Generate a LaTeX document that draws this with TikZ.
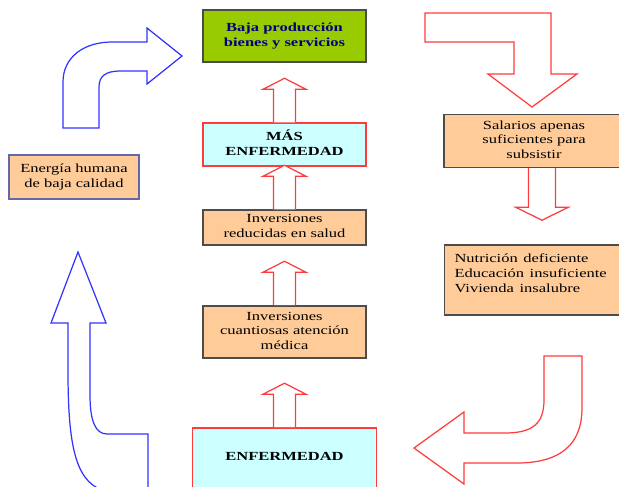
\documentclass[tikz,border=0pt]{standalone}
\usepackage{fontspec}
\setmainfont{Liberation Serif}
\usetikzlibrary{positioning}

\definecolor{verde}{HTML}{99CC00}
\definecolor{piel}{HTML}{FFCC99}
\definecolor{celeste}{HTML}{CCFFFF}
\definecolor{azul}{HTML}{3333FF}
\definecolor{rojo}{HTML}{FF3B3B}
\definecolor{marino}{HTML}{000080}

% texto algo aplastado en vertical, como en el original
\newcommand{\sq}[1]{\scalebox{1}[0.75]{\begin{tabular}{@{}c@{}}#1\end{tabular}}}
\newcommand{\sql}[1]{\scalebox{1}[0.75]{\begin{tabular}{@{}l@{}}#1\end{tabular}}}

\tikzset{
  caja/.style={draw=black!70, fill=piel, line width=0.8pt, inner sep=0pt,
    font=\fontsize{9.4}{11.3}\selectfont},
  flecharoja/.style={draw=rojo, fill=white, line width=0.7pt, line join=miter},
  flechaazul/.style={draw=azul, fill=white, line width=0.7pt, line join=miter},
  uparr/.pic={\draw[flecharoja] (-11,0) -- (-11,-33) -- (-21.5,-33) -- (0,-44)
    -- (21.5,-33) -- (11,-33) -- (11,0);}
}

\begin{document}
\begin{tikzpicture}[x=0.02cm,y=-0.02cm,on grid]
    \useasboundingbox (0,0) rectangle (619,487);
    \clip (0,0) rectangle (619,487);

    % columna central
    \node[caja, fill=verde, minimum width=3.26cm, minimum height=1.04cm,
      text=marino, font=\fontsize{9.4}{11.3}\selectfont\bfseries]
      (prod) at (284.5,36) {\sq{Baja producción\\bienes y servicios}};
    \node[caja, draw=rojo, fill=celeste, minimum width=3.26cm, minimum height=0.86cm,
      font=\fontsize{9.4}{11.3}\selectfont\bfseries, below=2.17cm of prod]
      (mas) {\sq{MÁS\\ENFERMEDAD}};
    \node[caja, minimum width=3.26cm, minimum height=0.70cm, below=1.66cm of mas]
      (reduc) {\sq{Inversiones\\reducidas en salud}};
    \node[caja, minimum width=3.26cm, minimum height=1.04cm, below=2.09cm of reduc]
      (cuant) {\sq{Inversiones\\cuantiosas atención\\médica}};
    \node[caja, draw=rojo, fill=celeste, minimum width=3.68cm, minimum height=1.2cm,
      font=\fontsize{9.4}{11.3}\selectfont\bfseries, below=2.52cm of cuant]
      (enf) {\sq{ENFERMEDAD}};

    % lados
    \node[caja, draw=blue!45!black!60, minimum width=2.6cm, minimum height=0.88cm]
      (energia) at (74,177) {\sq{Energía humana\\de baja calidad}};
    \node[caja, minimum width=3.6cm, minimum height=1.06cm]
      (sal) at (534,141) {\sq{Salarios apenas\\suficientes para\\subsistir}};
    \node[caja, minimum width=3.6cm, minimum height=1.4cm, text width=3.2cm,
      text depth=17.3pt] (nut) at (534.5,280)
      {\sql{Nutrición deficiente\\Educación insuficiente\\Vivienda insalubre}};

    % flechas rectas
    \pic at (mas.north) {uparr};
    \pic at (reduc.north) {uparr};
    \pic at (cuant.north) {uparr};
    \pic at (enf.north) {uparr};
    \draw[flecharoja] (sal.south -| 528.5,0) -- ++(0,39) -- ++(-13,0)
      -- ++(26.5,13) -- ++(26.5,-13) -- ++(-13,0) -- ++(0,-39);

    % flechas curvas
    \draw[flechaazul] (63,128) -- (63,82) .. controls (63,57) and (84,42) .. (112,42)
      -- (147,42) -- (147,28) -- (182,56) -- (147,84) -- (147,71) -- (120,71)
      .. controls (106,71) and (99,76) .. (99,87) -- (99,128) -- cycle;
    \draw[flechaazul] (68,323) -- (51,323) -- (78,252) -- (106,323) -- (90,323)
      -- (90,395) .. controls (90,420) and (95,434) .. (107,434) -- (148,434)
      -- (148,490) -- (102,490) .. controls (74,480) and (68,440) .. (68,370) -- cycle;
    \draw[flecharoja] (425,13) -- (551,13) -- (551,74) -- (577,74) -- (532,107)
      -- (488,74) -- (514,74) -- (514,42) -- (425,42) -- cycle;
    \draw[flecharoja] (544,356) -- (582,356) -- (582,408) .. controls (582,445) and (560,462)
      .. (520,463) -- (464,463) -- (464,484) -- (414,448) -- (464,412) -- (464,433)
      -- (505,433) .. controls (532,433) and (544,424) .. (544,400) -- cycle;
\end{tikzpicture}
\end{document}
